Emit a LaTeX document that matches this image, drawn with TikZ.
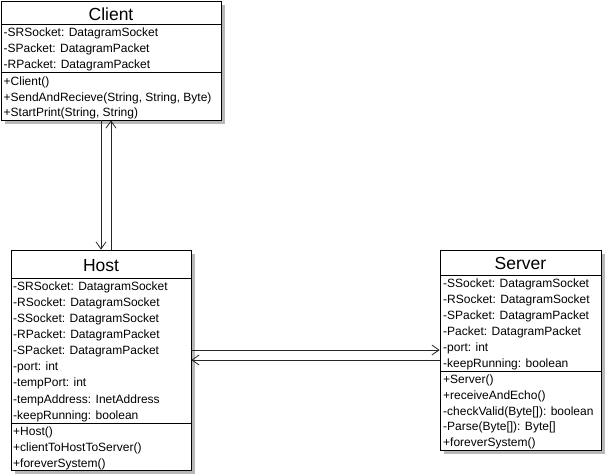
\documentclass[tikz,border=0pt]{standalone}
\usepackage{fontspec}
\setmainfont{Liberation Sans}
\usetikzlibrary{arrows.meta,shadows}
\begin{document}
\begin{tikzpicture}[x=1pt,y=-1pt,
  cls/.style={draw=black, line width=0.8pt, fill=white, inner sep=0pt,
    drop shadow={shadow xshift=3.5pt, shadow yshift=-3.5pt, fill=black!28, opacity=1}},
  sep/.style={draw=black, line width=0.8pt},
  ttl/.style={inner sep=0pt, anchor=base, font=\fontsize{17.5}{20}\selectfont},
  mem/.style={inner sep=0pt, anchor=base west, font=\fontsize{12}{14}\selectfont},
  conn/.style={draw=black!85, line width=0.8pt, -{Straight Barb[length=7pt,width=10pt,line width=0.8pt]}}]
\useasboundingbox (0,0) rectangle (605,475);
% boxes
\node[cls, minimum width=220pt, minimum height=119pt] (client) at (111,60.5) {};
\node[cls, minimum width=180pt, minimum height=220pt] (host) at (101,360) {};
\node[cls, minimum width=161pt, minimum height=200pt] (server) at (520.5,350) {};
% separators
\draw[sep] (client.west |- 0,24.5) -- (client.east |- 0,24.5);
\draw[sep] (client.west |- 0,72) -- (client.east |- 0,72);
\draw[sep] (host.west |- 0,278) -- (host.east |- 0,278);
\draw[sep] (host.west |- 0,423) -- (host.east |- 0,423);
\draw[sep] (server.west |- 0,275) -- (server.east |- 0,275);
\draw[sep] (server.west |- 0,371) -- (server.east |- 0,371);
% titles
\node[ttl] (tc) at (111,20.7) {Client};
\node[ttl] (th) at (101,271.7) {Host};
\node[ttl] (ts) at (520.5,269) {Server};
% Client members
\node[mem] (c1) at (3.5,36.8) {-SRSocket: DatagramSocket};
\node[mem] (c2) at (3.5,52.6) {-SPacket: DatagramPacket};
\node[mem] (c3) at (3.5,68.4) {-RPacket: DatagramPacket};
\node[mem] (c4) at (3.5,85.5) {+Client()};
\node[mem] (c5) at (3.5,101) {+SendAndRecieve(String, String, Byte)};
\node[mem] (c6) at (3.5,116.5) {+StartPrint(String, String)};
% Host members
\node[mem] (h1) at (13,290.7) {-SRSocket: DatagramSocket};
\node[mem] (h2) at (13,306.7) {-RSocket: DatagramSocket};
\node[mem] (h3) at (13,322.8) {-SSocket: DatagramSocket};
\node[mem] (h4) at (13,338.8) {-RPacket: DatagramPacket};
\node[mem] (h5) at (13,354.8) {-SPacket: DatagramPacket};
\node[mem] (h6) at (13,370.9) {-port: int};
\node[mem] (h7) at (13,386.9) {-tempPort: int};
\node[mem] (h8) at (13,403) {-tempAddress: InetAddress};
\node[mem] (h9) at (13,419) {-keepRunning: boolean};
\node[mem] (h10) at (13,435.7) {+Host()};
\node[mem] (h11) at (13,451.7) {+clientToHostToServer()};
\node[mem] (h12) at (13,467.7) {+foreverSystem()};
% Server members
\node[mem] (s1) at (443,287.7) {-SSocket: DatagramSocket};
\node[mem] (s2) at (443,303.6) {-RSocket: DatagramSocket};
\node[mem] (s3) at (443,319.5) {-SPacket: DatagramPacket};
\node[mem] (s4) at (443,335.5) {-Packet: DatagramPacket};
\node[mem] (s5) at (443,351.4) {-port: int};
\node[mem] (s6) at (443,367.3) {-keepRunning: boolean};
\node[mem] (s7) at (443,383.3) {+Server()};
\node[mem] (s8) at (443,399.1) {+receiveAndEcho()};
\node[mem] (s9) at (443,415) {-checkValid(Byte[]): boolean};
\node[mem] (s10) at (443,430.8) {-Parse(Byte[]): Byte[]};
\node[mem] (s11) at (443,446.7) {+foreverSystem()};
% connectors
\draw[conn] (client.south -| host.north) -- (host.north);
\draw[conn] (host.north -| client.south) -- (client.south);
\draw[conn] (host.east |- server.west) -- (server.west);
\draw[conn] (server.west |- host.east) -- (host.east);
\end{tikzpicture}
\end{document}
